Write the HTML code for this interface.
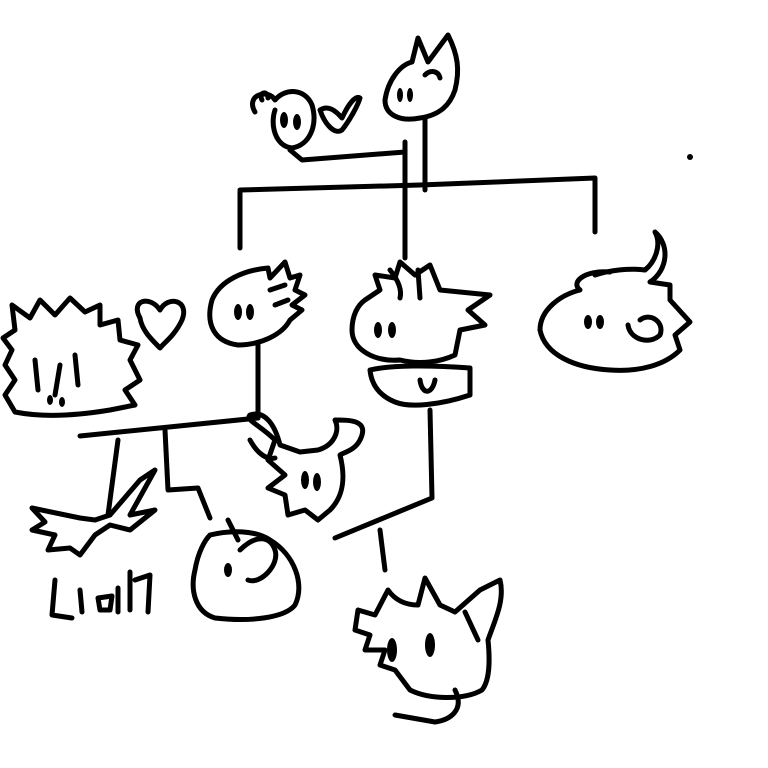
<!DOCTYPE html>
<html><head><meta charset="utf-8"><style>
html,body{margin:0;padding:0;background:#fff;width:768px;height:768px;overflow:hidden}
svg{display:block}
</style></head><body>
<svg width="768" height="768" viewBox="0 0 768 768" xmlns="http://www.w3.org/2000/svg">
<g fill="none" stroke="#000" stroke-width="5" stroke-linecap="round" stroke-linejoin="round">
<!-- top small head -->
<path d="M255,112 C245,95 268,88 275,100 C285,88 305,88 312,105 C318,125 310,145 292,148 C275,146 270,125 275,110"/>
<path d="M262,100 C258,92 268,90 268,98"/>
<path d="M320,110 C325,125 335,135 342,130 C350,120 358,105 360,98 C355,95 348,105 342,118 C335,110 328,105 320,110"/>
<!-- top horse head -->
<path d="M385,100 C388,80 400,65 412,62 L418,38 L428,62 L448,35 C458,55 460,70 455,90 C450,105 440,115 420,118 C400,122 385,115 385,100"/>
<path d="M425,75 C430,70 438,70 440,78"/>
<!-- top connectors -->
<path d="M290,150 L302,160 L405,152 L405,142"/>
<path d="M425,118 L425,190"/>
<path d="M405,150 L405,258"/>
<path d="M240,192 L240,248"/>
<path d="M240,190 L420,185 L595,178 L595,232"/>
<!-- left-middle head -->
<path d="M212,300 C220,280 245,270 268,268 L270,278 L285,262 L290,278 L300,275 L295,290 L305,295 L292,305 L302,310 L290,320 C282,335 260,345 238,345 C215,342 205,325 212,300"/>
<path d="M270,290 L285,285 M275,305 L288,300"/>
<path d="M258,345 L258,418 L80,436"/>
<path d="M165,430 L168,490 L198,488 L210,518"/>
<path d="M118,440 L108,515"/>
<!-- far left spiky head -->
<path d="M15,330 L12,305 L30,318 L40,300 L55,315 L70,298 L85,312 L100,305 L100,325 L118,320 L120,340 L138,345 L130,360 L140,380 L125,390 L135,405 L110,410 C80,415 45,418 15,412 L5,395 L15,380 L5,365 L12,350 L3,338 Z"/>
<path d="M35,360 L38,390 M60,365 L55,395 M75,355 L78,385"/>
<path d="M140,318 C130,300 150,295 160,310 C168,295 190,300 182,320 C175,335 165,342 160,348 C150,338 142,330 140,318"/>
<!-- center pig head -->
<path d="M365,300 L380,290 L375,275 L395,278 L400,262 L415,275 L430,265 L440,290 L490,295 L468,310 L485,325 L460,330 L455,355 C440,362 420,365 400,360 C375,362 352,350 352,330 C352,315 358,305 365,300"/>
<path d="M390,270 C398,280 402,290 400,298 M418,270 L420,298"/>
<path d="M370,370 C390,365 430,365 470,368 L470,395 C440,405 410,408 395,402 C385,398 372,390 370,370"/>
<path d="M420,380 C422,395 432,395 435,380"/>
<path d="M430,410 L432,498 L335,538"/>
<path d="M380,530 L385,570"/>
<!-- right head -->
<path d="M595,275 C610,270 630,268 645,270 C655,262 662,245 655,232 C670,245 668,270 650,282 L670,285 L670,300 L690,322 L675,335 L680,350 C665,365 640,372 610,370 C575,368 545,355 540,330 C540,310 560,295 580,290 C570,282 585,270 610,272"/>
<path d="M628,325 C630,340 650,345 660,335 C665,322 650,312 640,320"/>
<!-- middle creature -->
<path d="M275,440 C260,425 245,420 250,415 C265,410 275,425 280,445 L300,452 L318,450 C335,445 340,430 335,420 C350,420 370,420 360,440 C355,450 345,452 340,455 C345,475 345,495 330,510 L318,520 L305,510 L288,515 L285,495 L268,488 L285,475 L268,460 Z"/>
<path d="M250,440 C258,455 268,460 275,458"/>
<!-- bird left bottom -->
<path d="M32,508 L45,522 L32,530 L55,535 L48,550 L70,548 L80,555 L95,535 L110,525 L130,530 L155,510 L130,515 L155,470 L140,480 L110,515 L95,520 L80,518 Z"/>
<path d="M55,580 L52,615 L72,618 M80,590 L82,612 M98,598 L100,610 L110,610 L112,596 Z M118,588 L118,612 M130,572 L130,610 M135,580 L150,575 L148,612"/>
<!-- apple head -->
<path d="M210,535 C230,530 255,530 270,540 C295,555 305,585 295,605 C285,618 250,622 215,618 C195,612 190,590 195,570 C198,552 205,540 210,535"/>
<path d="M228,520 L238,540 M240,550 C255,535 270,535 275,550 C280,565 260,585 248,580"/>
<!-- bottom head -->
<path d="M358,610 L375,615 L388,590 C395,600 405,605 418,605 L425,578 L440,605 L455,612 L480,590 L500,580 C505,600 495,620 488,640 C490,660 490,680 482,690 C465,700 430,700 410,690 L395,670 L380,665 L385,650 L365,650 L370,635 L355,630 Z"/>
<path d="M465,612 L478,640 M455,690 C465,710 450,720 435,722 L395,715"/>
</g>
<g fill="#000">
<ellipse cx="284" cy="120" rx="4" ry="8"/><ellipse cx="297" cy="122" rx="4" ry="8"/>
<ellipse cx="400" cy="95" rx="3" ry="7"/><ellipse cx="410" cy="95" rx="3" ry="7"/>
<ellipse cx="238" cy="312" rx="4" ry="8"/><ellipse cx="250" cy="312" rx="4" ry="8"/>
<ellipse cx="378" cy="330" rx="4" ry="8"/><ellipse cx="392" cy="330" rx="4" ry="8"/>
<ellipse cx="588" cy="322" rx="4" ry="7"/><ellipse cx="600" cy="322" rx="4" ry="7"/>
<ellipse cx="305" cy="480" rx="4" ry="9"/><ellipse cx="317" cy="482" rx="4" ry="9"/>
<ellipse cx="392" cy="650" rx="5" ry="12"/><ellipse cx="430" cy="645" rx="5" ry="12"/>
<ellipse cx="228" cy="570" rx="4" ry="7"/>
<ellipse cx="50" cy="400" rx="3" ry="5"/><ellipse cx="62" cy="402" rx="3" ry="5"/>
<circle cx="690" cy="157" r="3"/>
</g>
</svg>
</body></html>
